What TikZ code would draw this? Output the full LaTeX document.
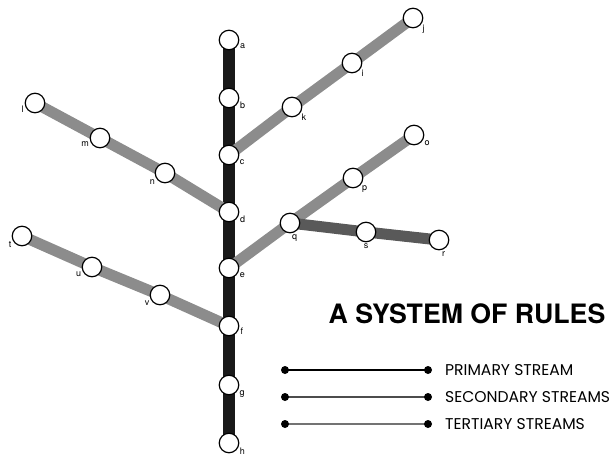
\documentclass[tikz,border=0pt]{standalone}
\usepackage{fontspec}
\setmainfont{TeX Gyre Heros}
\newfontfamily\streamfont{Poppins}
\usetikzlibrary{backgrounds}
\tikzset{
  stop/.style={circle, draw=black, fill=white, line width=1.2pt, inner sep=0pt, minimum size=19.5pt},
  lbl/.style={font=\fontsize{9}{9}\selectfont, inner sep=1pt},
  primary/.style={line width=12pt, black!90},
  secondary/.style={line width=11pt, black!45},
  tertiary/.style={line width=11pt, black!65},
  legline/.style={line width=1.5pt},
  legdot/.style={circle, fill=black, inner sep=0pt, minimum size=8pt},
  legtext/.style={anchor=west, inner sep=0pt, font=\streamfont\fontsize{15.6}{15.6}\selectfont},
}
\begin{document}
\begin{tikzpicture}[x=1pt, y=-1pt]
  \useasboundingbox (0,0) rectangle (615,457);
  % primary stream
  \node[stop, label={[lbl]-15:a}] (a) at (229,40) {};
  \node[stop, label={[lbl]-15:b}] (b) at (229,98) {};
  \node[stop, label={[lbl]-20:c}] (c) at (229,155) {};
  \node[stop, label={[lbl]-15:d}] (d) at (229,212) {};
  \node[stop, label={[lbl]-20:e}] (e) at (229,268) {};
  \node[stop, label={[lbl]-5:f}] (f) at (229,326) {};
  \node[stop, label={[lbl]-25:g}] (g) at (229,385) {};
  \node[stop, label={[lbl]-20:h}] (h) at (229,443) {};
  % branches
  \node[stop, label={[lbl]-35:k}] (k) at (292,107) {};
  \node[stop, label={[lbl]-35:i}] (i) at (352,63) {};
  \node[stop, label={[lbl]-35:j}] (j) at (413,18) {};
  \node[stop, label={[lbl]190:l}] (l) at (35,103) {};
  \node[stop, label={[lbl]195:m}] (m) at (100,138) {};
  \node[stop, label={[lbl]210:n}] (n) at (165,173) {};
  \node[stop, label={[lbl]-85:q}] (q) at (290,223) {};
  \node[stop, label={[lbl]-40:p}] (p) at (353,178) {};
  \node[stop, label={[lbl]-25:o}] (o) at (414,135) {};
  \node[stop, label={[lbl]-90:s}] (s) at (366,232) {};
  \node[stop, label={[lbl]-80:r}] (r) at (439,240) {};
  \node[stop, label={[lbl]205:t}] (t) at (22,236) {};
  \node[stop, label={[lbl]200:u}] (u) at (92,267) {};
  \node[stop, label={[lbl]205:v}] (v) at (160,295) {};
  \begin{pgfonlayer}{background}
    \draw[primary] (a.center) -- (h.center);
    \draw[secondary] (c.center) -- (k.center) -- (i.center) -- (j.center);
    \draw[secondary] (l.center) -- (m.center) -- (n.center) -- (d.center);
    \draw[secondary] (e.center) -- (q.center) -- (p.center) -- (o.center);
    \draw[secondary] (t.center) -- (u.center) -- (v.center) -- (f.center);
    \draw[tertiary] (q.center) -- (s.center) -- (r.center);
  \end{pgfonlayer}
  % legend
  \node[font=\fontsize{26.7}{30}\selectfont\bfseries, inner sep=0pt] (title) at (467,314) {A SYSTEM OF RULES};
  \coordinate (pa) at (285,370); \coordinate (pb) at (428,370);
  \coordinate (sa) at (285,397); \coordinate (sb) at (428,397);
  \coordinate (ta) at (285,424); \coordinate (tb) at (428,424);
  \draw[legline, black] (pa) -- (pb);
  \draw[legline, black!70] (sa) -- (sb);
  \draw[legline, black!55] (ta) -- (tb);
  \foreach \pt in {pa,pb,sa,sb,ta,tb}
    \node[legdot] at (\pt) {};
  \node[legtext] (ptext) at (445,370) {PRIMARY STREAM};
  \node[legtext] (stext) at (445,397) {SECONDARY STREAMS};
  \node[legtext] (ttext) at (445,424) {TERTIARY STREAMS};
\end{tikzpicture}
\end{document}
